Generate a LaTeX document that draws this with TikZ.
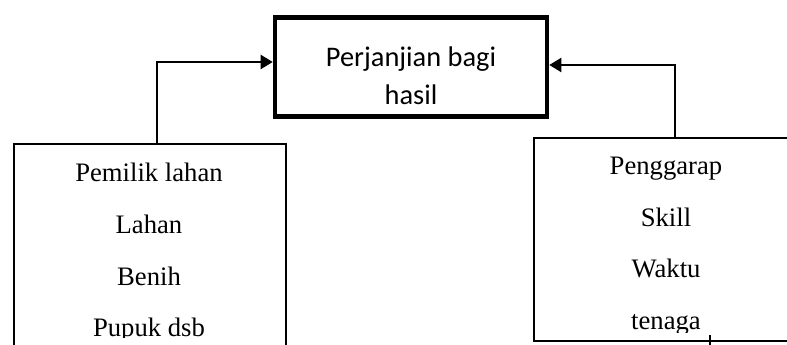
\documentclass[tikz,border=0pt]{standalone}
\usepackage{fontspec}
\setmainfont{Liberation Serif}
\newfontfamily\agreefont{Carlito}
\usetikzlibrary{arrows.meta}
\begin{document}
\begin{tikzpicture}[x=0.75pt,y=-0.75pt,
  agreebox/.style={draw, line width=3.4pt, minimum width=204pt, minimum height=74.25pt, inner sep=0pt},
  partybox/.style={inner sep=0pt, outer sep=0.75pt},
  partyline/.style={line width=1.5pt},
  agreetext/.style={font=\agreefont\fontsize{21.3}{25}\selectfont, anchor=base, inner sep=0pt},
  partytext/.style={font=\fontsize{20}{24}\selectfont, anchor=base, inner sep=0pt},
  riser/.style={line width=0.9pt, line cap=rect},
  feed/.style={line width=1.5pt, -{Triangle[length=9pt, width=10.5pt]}},
  tick/.style={line width=0.8pt},
]
\useasboundingbox (0,0) rectangle (787,345);
\clip (0,0) rectangle (787,345);

% boxes; the two lower ones run on past the edges of the sheet
\node[agreebox] (agree) at (411,67) {};
\node[partybox, minimum width=202pt, minimum height=200pt, anchor=north west] (owner) at (14.25,144.3) {};
\node[partybox, minimum width=199.5pt, minimum height=150.5pt, anchor=north west] (tiller) at (534,138.3) {};
\draw[partyline] (owner.south west) -- (owner.north west) -- (owner.north east) -- (owner.south east);
\draw[partyline] (tiller.north east) -- (tiller.north west) -- (tiller.south west) -- (tiller.south east);

% box texts
\node[agreetext] (agree1) at (411,67) {Perjanjian bagi};
\node[agreetext] (agree2) at (411,105) {hasil};

\begin{scope}
  \clip (14,144) rectangle (284,337.5);
  \node[partytext] (owner1) at (149,181) {Pemilik lahan};
  \node[partytext] (owner2) at (149,233) {Lahan};
  \node[partytext] (owner3) at (149,285) {Benih};
  \node[partytext] (owner4) at (149,336) {Pupuk dsb};
\end{scope}

\begin{scope}
  \clip (534,138) rectangle (787,332.5);
  \node[partytext] (tiller1) at (666,175) {Penggarap};
  \node[partytext] (tiller2) at (666,226) {Skill};
  \node[partytext] (tiller3) at (666,277) {Waktu};
  \node[partytext] (tiller4) at (666,329) {tenaga};
\end{scope}

% connectors
\coordinate (lbend) at (157,62);
\draw[riser] (lbend |- owner.north) -- (lbend);
\draw[feed] (lbend) -- (lbend -| agree.west);

\coordinate (rbend) at (675,65);
\draw[riser] (rbend |- tiller.north) -- (rbend);
\draw[feed] (rbend) -- (rbend -| agree.east);

% small mark under the right box
\draw[tick] (710,335) -- (710,345);
\end{tikzpicture}
\end{document}
